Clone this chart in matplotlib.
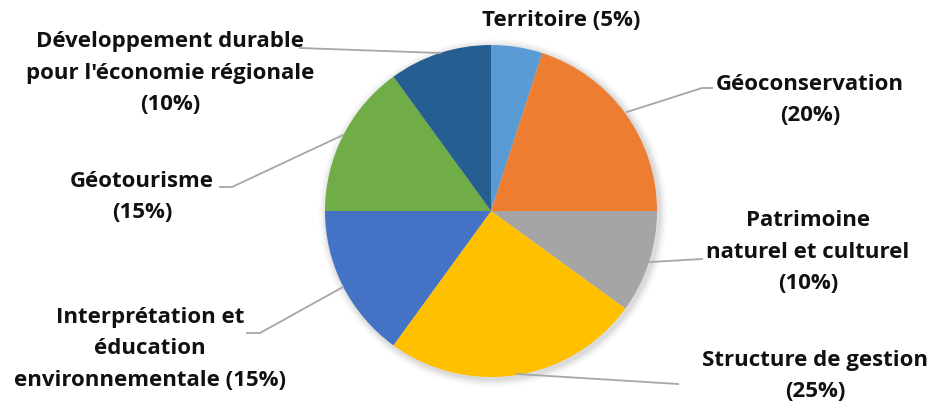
import matplotlib.pyplot as plt
from matplotlib.patches import Circle

labels = ["Territoire (5%)", "Géoconservation\n(20%)", "Patrimoine\nnaturel et culturel\n(10%)",
          "Structure de gestion\n(25%)", "Interprétation et\néducation\nenvironnementale (15%)",
          "Géotourisme\n(15%)", "Développement durable\npour l'économie régionale\n(10%)"]
shares = [5, 20, 10, 25, 15, 15, 10]
colors = ["#5B9BD5", "#ED7D31", "#A5A5A5", "#FFC000", "#4472C4", "#70AD47", "#255E91"]

# label placement in pixel coordinates (x, y from top)
label_pos = [(561, 20), (810, 100), (808, 252), (815, 376), (150, 349), (142, 197), (170, 73)]
leaders = [None,
           [(627, 112), (702, 88), (712, 88)],
           [(650, 262), (702, 259)],
           [(517, 374), (678, 384)],
           [(343, 287), (260, 333), (247, 333)],
           [(343, 135), (232, 187), (220, 187)],
           [(440, 53), (300, 48)]]

W, H = 933, 408
fig = plt.figure(figsize=(W / 100, H / 100), dpi=100)
ax = fig.add_axes([0, 0, 1, 1])

cx, cy, r = 491, H - 211, 166

# soft shadow
for i, a in enumerate([0.05, 0.04, 0.03, 0.02]):
    ax.add_patch(Circle((cx + 2, cy - 2), r + 2 + 2 * i, color="black", alpha=a, lw=0, zorder=0))

ax.pie(shares, colors=colors, startangle=90, counterclock=False,
       center=(cx, cy), radius=r, frame=True, wedgeprops=dict(linewidth=0))
ax.set_xlim(0, W)
ax.set_ylim(0, H)
ax.set_aspect("equal")
ax.axis("off")

for lab, (x, y), ld in zip(labels, label_pos, leaders):
    ax.text(x, H - y, lab, ha="center", va="center", fontsize=16, fontweight="bold",
            family="Open Sans", color="#111111", linespacing=1.68)
    if ld:
        ax.plot([p[0] for p in ld], [H - p[1] for p in ld], color="#A6A6A6", lw=1.3, zorder=3)

fig.savefig("out.png", dpi=100)
